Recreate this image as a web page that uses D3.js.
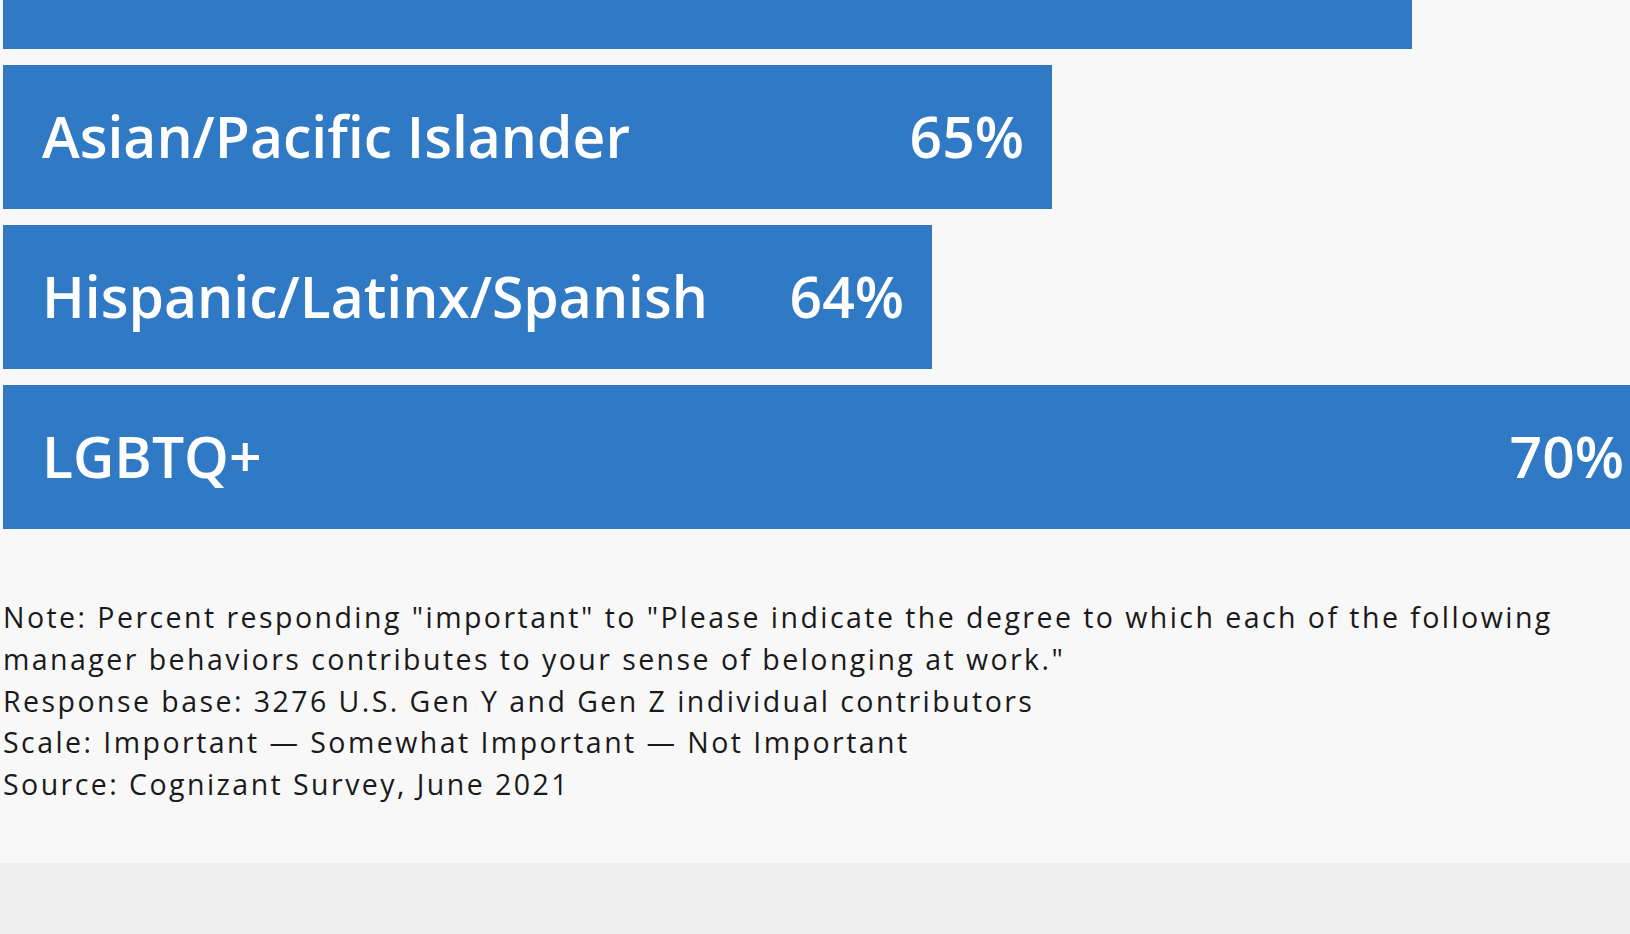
<!DOCTYPE html>
<html>
<head>
<meta charset="utf-8">
<script src="https://cdn.jsdelivr.net/npm/d3@7"></script>
<style>
  html, body { margin: 0; padding: 0; background: #f0f0f0; overflow: hidden; }
  svg { display: block; }
</style>
</head>
<body>
<svg id="chart" width="1630" height="934"></svg>
<script>
// ---- data ----
const categories = ["Black/African American", "Asian/Pacific Islander", "Hispanic/Latinx/Spanish", "LGBTQ+"];
const values = [68, 65, 64, 70];
const noteLines = [
  "Note: Percent responding \"important\" to \"Please indicate the degree to which each of the following",
  "manager behaviors contributes to your sense of belonging at work.\"",
  "Response base: 3276 U.S. Gen Y and Gen Z individual contributors",
  "Scale: Important \u2014 Somewhat Important \u2014 Not Important",
  "Source: Cognizant Survey, June 2021"
];

const W = 1630, H = 934;
const barColor = "#3079c4";
const svg = d3.select("#chart");

// page backgrounds
svg.append("rect").attr("x", 0).attr("y", 0).attr("width", W).attr("height", 863).attr("fill", "#f8f8f8");
svg.append("rect").attr("x", 0).attr("y", 863).attr("width", W).attr("height", H - 863).attr("fill", "#f0f0f0");

const data = categories.map((c, i) => ({ cat: c, val: values[i] }));

// scales (chart is scrolled: first bar partly above the viewport)
const x = d3.scaleLinear().domain([64, 68]).range([932, 1412]);
const x0 = 3;
const y = d3.scaleBand().domain(categories).range([-95, 529]).paddingInner(0.1).paddingOuter(0);

const g = svg.append("g");
const rows = g.selectAll("g.row").data(data).join("g").attr("class", "row");

rows.append("rect")
  .attr("x", x0)
  .attr("y", d => y(d.cat))
  .attr("width", d => x(d.val) - x0)
  .attr("height", y.bandwidth())
  .attr("fill", barColor);

const labelFont = "'Open Sans', 'Lato', sans-serif";
const baseY = d => y(d.cat) + y.bandwidth() / 2 + 20.5;
// labels scrolled out of the viewport are not drawn
const visibleRows = rows.filter(d => baseY(d) > 41);

visibleRows.append("text")
  .attr("x", 42)
  .attr("y", baseY)
  .attr("fill", "#ffffff")
  .attr("font-family", labelFont)
  .attr("font-weight", 600)
  .attr("font-size", 57)
  .text(d => d.cat);

visibleRows.append("text")
  .attr("x", d => x(d.val) - 28)
  .attr("y", baseY)
  .attr("text-anchor", "end")
  .attr("fill", "#ffffff")
  .attr("font-family", labelFont)
  .attr("font-weight", 600)
  .attr("font-size", 57)
  .text(d => d.val + "%");

// notes
svg.append("g").selectAll("text").data(noteLines).join("text")
  .attr("x", 3)
  .attr("y", (d, i) => 628.3 + i * 41.67)
  .attr("fill", "#1a1a1a")
  .attr("font-family", "'Open Sans', sans-serif")
  .attr("font-size", 28.5)
  .attr("letter-spacing", 2.45)
  .text(d => d);
</script>
</body>
</html>
